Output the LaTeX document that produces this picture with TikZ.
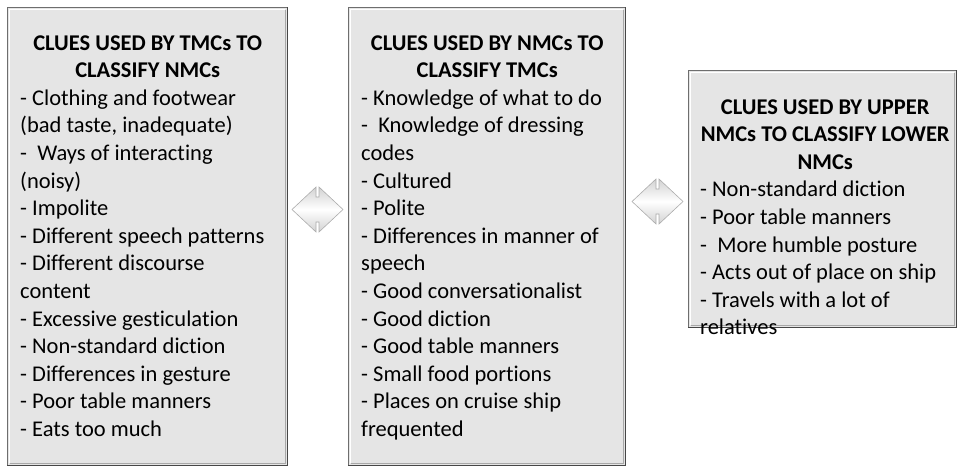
\documentclass[tikz,border=0pt]{standalone}
\usepackage{fontspec}
\setmainfont{Carlito}[Ligatures=NoCommon]
\usetikzlibrary{calc}
\definecolor{boxfill}{HTML}{E5E5E5}
\definecolor{boxline}{HTML}{6E6E6E}
\definecolor{boxdark}{HTML}{474747}
\definecolor{boxshade}{HTML}{A8A8A8}
\tikzset{
  cluebox/.style={draw=boxline, line width=1pt, fill=boxfill, anchor=north west, inner sep=0pt},
  cluetext/.style={anchor=base west, inner sep=0pt, font=\fontsize{22.5}{27.6}\selectfont},
  swaparrow/.style={top color=gray!35, bottom color=gray!35, middle color=white, draw=gray!65, line width=0.6pt}
}
\newcommand\bevelbox[1]{%
  \draw[boxdark, line width=1.6pt] ([xshift=0.3pt,yshift=0.6pt]#1.south west) -- ([xshift=-0.6pt,yshift=0.6pt]#1.south east) -- ([xshift=-0.6pt,yshift=-0.3pt]#1.north east);
  \draw[white, line width=1.4pt] ([xshift=2.2pt,yshift=3pt]#1.south west) -- ([xshift=2.2pt,yshift=-2.2pt]#1.north west) -- ([xshift=-3pt,yshift=-2.2pt]#1.north east);
  \draw[boxshade, line width=1.8pt] ([xshift=2.5pt,yshift=2.6pt]#1.south west) -- ([xshift=-2.6pt,yshift=2.6pt]#1.south east) -- ([xshift=-2.6pt,yshift=-2.5pt]#1.north east);
}
\begin{document}
\begin{tikzpicture}[x=1pt,y=-1pt]
\useasboundingbox (0,0) rectangle (957,466);
% boxes
\node[cluebox, minimum width=280pt, minimum height=458pt] (b1) at (7,7) {};
\bevelbox{b1}
\node[cluebox, minimum width=277pt, minimum height=458pt] (b2) at (348,7) {};
\bevelbox{b2}
\node[cluebox, minimum width=268pt, minimum height=257pt] (b3) at (688,70) {};
\bevelbox{b3}
% texts
\node[cluetext] (t1) at (20,50) {\parbox[t]{255pt}{\centering\bfseries CLUES USED BY TMCs TO\\CLASSIFY NMCs\par\raggedright\mdseries
- Clothing and footwear\\
(bad taste, inadequate)\\
-\ \ Ways of interacting\\
(noisy)\\
- Impolite\\
- Different speech patterns\\
- Different discourse\\
content\\
- Excessive gesticulation\\
- Non-standard diction\\
- Differences in gesture\\
- Poor table manners\\
- Eats too much}};
\node[cluetext] (t2) at (361,50) {\parbox[t]{252pt}{\centering\bfseries CLUES USED BY NMCs TO\\CLASSIFY TMCs\par\raggedright\mdseries
- Knowledge of what to do\\
-\ \ Knowledge of dressing\\
codes\\
- Cultured\\
- Polite\\
- Differences in manner of\\
speech\\
- Good conversationalist\\
- Good diction\\
- Good table manners\\
- Small food portions\\
- Places on cruise ship\\
frequented}};
\node[cluetext] (t3) at (700,114) {\parbox[t]{250pt}{\centering\bfseries CLUES USED BY UPPER\\\makebox[\linewidth]{NMCs TO CLASSIFY LOWER}\\NMCs\par\raggedright\mdseries
- Non-standard diction\\
- Poor table manners\\
-\ \ More humble posture\\
- Acts out of place on ship\\
- Travels with a lot of\\
relatives}};
% double arrows
\coordinate (a1) at (317.5,209.5);
\path[swaparrow] ($(a1)+(-25.5,0)$) -- ++(24,-22.5) -- ++(0,10) -- ++(3,0) -- ++(0,-10) -- ++(24,22.5) -- ++(-24,22.5) -- ++(0,-10) -- ++(-3,0) -- ++(0,10) -- cycle;
\coordinate (a2) at (657.5,201.5);
\path[swaparrow] ($(a2)+(-25.5,0)$) -- ++(24,-22.5) -- ++(0,10) -- ++(3,0) -- ++(0,-10) -- ++(24,22.5) -- ++(-24,22.5) -- ++(0,-10) -- ++(-3,0) -- ++(0,10) -- cycle;
\end{tikzpicture}
\end{document}
